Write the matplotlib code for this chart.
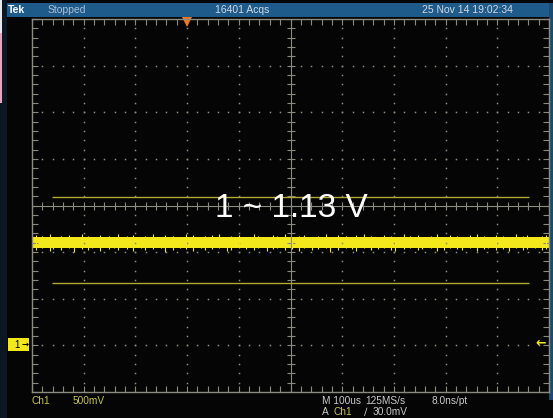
import numpy as np
import matplotlib.pyplot as plt
from matplotlib.patches import Rectangle

# scope settings: time in us, voltage in V
t_start, t_stop, t_step = -300, 700, 100   # 100us/div, trigger 3 div from left
v_bottom, v_top, v_step = -0.5, 3.5, 0.5   # 500mV/div, ground 1 div up
trig_time = 0
trig_level = 0.03

# noisy ch1 trace (band + visible spikes)
band_low = 1.04
band_high = 1.16
spike_t = [-293, -281, -266, -259, -244, -229, -218, -203, -191, -184, -168, -152,
           -141, -133, -117, -104, -89, -82, -66, -51, -43, -28, -14, -3, 11, 26,
           34, 49, 62, 77, 85, 101, 113, 129, 137, 154, 166, 173, 189, 202, 217,
           226, 241, 253, 268, 276, 291, 307, 318, 326, 343, 356, 369, 381, 394,
           402, 419, 431, 446, 454, 471, 483, 497, 508, 523, 531, 548, 561, 574,
           582, 597, 611, 622, 637, 649, 658, 673, 686, 695]
spike_top = [1.18, 1.17, 1.19, 1.16, 1.17, 1.18, 1.16, 1.19, 1.17, 1.16, 1.18, 1.17,
             1.16, 1.19, 1.17, 1.18, 1.16, 1.17, 1.19, 1.16, 1.18, 1.17, 1.16, 1.19,
             1.18, 1.16, 1.17, 1.18, 1.19, 1.16, 1.17, 1.18, 1.16, 1.19, 1.17, 1.16,
             1.18, 1.17, 1.19, 1.16, 1.17, 1.18, 1.16, 1.17, 1.19, 1.16, 1.18, 1.17,
             1.16, 1.18, 1.19, 1.17, 1.16, 1.18, 1.17, 1.16, 1.19, 1.17, 1.18, 1.16,
             1.17, 1.19, 1.16, 1.18, 1.17, 1.16, 1.18, 1.19, 1.17, 1.16, 1.18, 1.17,
             1.16, 1.19, 1.17, 1.18, 1.16, 1.17, 1.18]
spike_bot = [1.02, 1.04, 1.01, 1.03, 1.02, 1.04, 1.00, 1.03, 1.02, 1.04, 1.01, 1.03,
             1.04, 1.02, 1.03, 1.01, 1.04, 1.02, 1.03, 1.04, 1.00, 1.02, 1.04, 1.03,
             1.01, 1.04, 1.02, 1.03, 1.04, 1.01, 1.02, 1.04, 1.03, 1.02, 1.04, 1.01,
             1.03, 1.04, 1.02, 1.03, 1.01, 1.04, 1.02, 1.03, 1.04, 1.00, 1.02, 1.04,
             1.03, 1.01, 1.04, 1.02, 1.03, 1.04, 1.02, 1.01, 1.03, 1.04, 1.02, 1.03,
             1.04, 1.01, 1.02, 1.04, 1.03, 1.02, 1.04, 1.01, 1.03, 1.04, 1.02, 1.03,
             1.01, 1.04, 1.02, 1.03, 1.04, 1.02, 1.03]

# cursor lines
cursor_levels = [1.59, 0.67]
cursor_span = [-262, 662]

annotation = "1 ~ 1.13 V"
header_labels = ["Tek", "Stopped", "16401 Acqs", "25 Nov 14 19:02:34"]
ch_label, ch_scale = "Ch1", "500mV"
time_base, sample_rate, resolution = "M 100us", "125MS/s", "8.0ns/pt"
trig_source, trig_value = "Ch1", "30.0mV"

W, H = 553, 418
grid_col = '#8a8a80'
yellow = '#f2e81c'
olive = '#b0a830'
label_yellow = '#c8c448'
text_gray = '#c8c8c8'
header_blue = '#1f5b8a'


def fx(x):
    return x / W


def fy(y):
    return 1 - y / H


fig = plt.figure(figsize=(W / 100, H / 100), dpi=100, facecolor='#050505')

# frame decoration in pixel coordinates
bg = fig.add_axes([0, 0, 1, 1])
bg.set_xlim(0, W)
bg.set_ylim(H, 0)
bg.axis('off')
bg.add_patch(Rectangle((0, 0), 7, H, color='#0b1722', lw=0))
bg.add_patch(Rectangle((0, 0), 2, 33, color='#e8e8ec', lw=0))
bg.add_patch(Rectangle((0, 33), 2, 70, color='#e8a4bc', lw=0))
bg.add_patch(Rectangle((7, 3), W - 7, 14, color=header_blue, lw=0))
bg.add_patch(Rectangle((549, 3), 4, 397, color='#1b4a70', lw=0))
bg.add_patch(Rectangle((8, 338), 21, 13, color=yellow, lw=0))

# graticule
ax = fig.add_axes([32 / W, fy(392), 517 / W, 373 / H])
ax.set_facecolor('#050505')
ax.set_xlim(t_start, t_stop)
ax.set_ylim(v_bottom, v_top)
major_t = np.arange(t_start, t_stop + 1, t_step)
major_v = np.arange(v_bottom, v_top + 0.01, v_step)
minor_t = np.arange(t_start, t_stop + 1, t_step / 5)
minor_v = np.arange(v_bottom, v_top + 0.01, v_step / 5)
ax.set_xticks(major_t)
ax.set_yticks(major_v)
ax.set_xticks(minor_t, minor=True)
ax.set_yticks(minor_v, minor=True)
ax.tick_params(which='both', direction='in', top=True, right=True,
               labelbottom=False, labelleft=False, color=grid_col,
               length=4, width=0.8)
for sp in ax.spines.values():
    sp.set_color(grid_col)
    sp.set_linewidth(1)

center_t = (t_start + t_stop) / 2
center_v = (v_bottom + v_top) / 2
for t in major_t[1:-1]:
    if t != center_t:
        ax.plot([t] * len(minor_v), minor_v, ls='none', marker='s', ms=1.1,
                mew=0, color=grid_col)
for v in major_v[1:-1]:
    if v != center_v:
        ax.plot(minor_t, [v] * len(minor_t), ls='none', marker='s', ms=1.1,
                mew=0, color=grid_col)
ax.axhline(center_v, color=grid_col, lw=0.8)
ax.axvline(center_t, color=grid_col, lw=0.8)
ax.plot(minor_t, [center_v] * len(minor_t), ls='none', marker='|', ms=6,
        mew=0.8, color=grid_col)
ax.plot([center_t] * len(minor_v), minor_v, ls='none', marker='_', ms=6,
        mew=0.8, color=grid_col)

# cursors
ax.hlines(cursor_levels, cursor_span[0], cursor_span[1], color=olive, lw=1)

# trace
ax.fill_between([t_start, t_stop], band_low, band_high, color=yellow, lw=0)
ax.vlines(spike_t, spike_bot, spike_top, color=yellow, lw=0.8)

# trigger markers
ax.plot(trig_time, v_top - 0.03, marker='v', ms=7, color='#f07820',
        mew=0, clip_on=False)

font = 'Liberation Sans'

# big annotation
fig.text(fx(291), fy(217), annotation, ha='center', va='baseline',
         fontsize=24, color='white', family=font)

# header
fig.text(fx(8), fy(10), header_labels[0], ha='left', va='center',
         fontsize=7.5, color='white', weight='bold', family=font)
fig.text(fx(48), fy(10), header_labels[1], ha='left', va='center',
         fontsize=7.5, color='#a8c0d8', family=font)
fig.text(fx(215), fy(10), header_labels[2], ha='left', va='center',
         fontsize=7.5, color='#d0dae4', family=font)
fig.text(fx(422), fy(10), header_labels[3], ha='left', va='center',
         fontsize=7.5, color='#d0dae4', family=font)

# ground marker and trigger level arrow
fig.text(fx(17), fy(344.5), "1", ha='center', va='center', fontsize=7,
         color='black', family=font)
fig.text(fx(25), fy(344.5), "\u2192", ha='center', va='center', fontsize=6,
         color='black', weight='bold', family='DejaVu Sans')
fig.text(fx(541), fy(343), "\u2190", ha='center', va='center', fontsize=9,
         color=yellow, weight='bold', family='DejaVu Sans')

# footer
fs = 7.3
fig.text(fx(31), fy(400.5), ch_label, ha='left', va='center', fontsize=fs,
         color=label_yellow, family=font)
fig.text(fx(73), fy(400.5), ch_scale, ha='left', va='center', fontsize=fs,
         color=label_yellow, family=font)
fig.text(fx(322), fy(400.5), time_base, ha='left', va='center', fontsize=fs,
         color=text_gray, family=font)
fig.text(fx(365), fy(400.5), sample_rate, ha='left', va='center', fontsize=fs,
         color=text_gray, family=font)
fig.text(fx(432), fy(400.5), resolution, ha='left', va='center', fontsize=fs,
         color=text_gray, family=font)
fig.text(fx(322), fy(412), "A", ha='left', va='center', fontsize=fs,
         color=text_gray, family=font)
fig.text(fx(334), fy(412), trig_source, ha='left', va='center', fontsize=fs,
         color=label_yellow, family=font)
fig.text(fx(364), fy(412), "\u2215", ha='left', va='center', fontsize=fs,
         color=text_gray, family='DejaVu Sans')
fig.text(fx(373), fy(412), trig_value, ha='left', va='center', fontsize=fs,
         color=text_gray, family=font)

fig.savefig('out.png', dpi=100, facecolor=fig.get_facecolor())
